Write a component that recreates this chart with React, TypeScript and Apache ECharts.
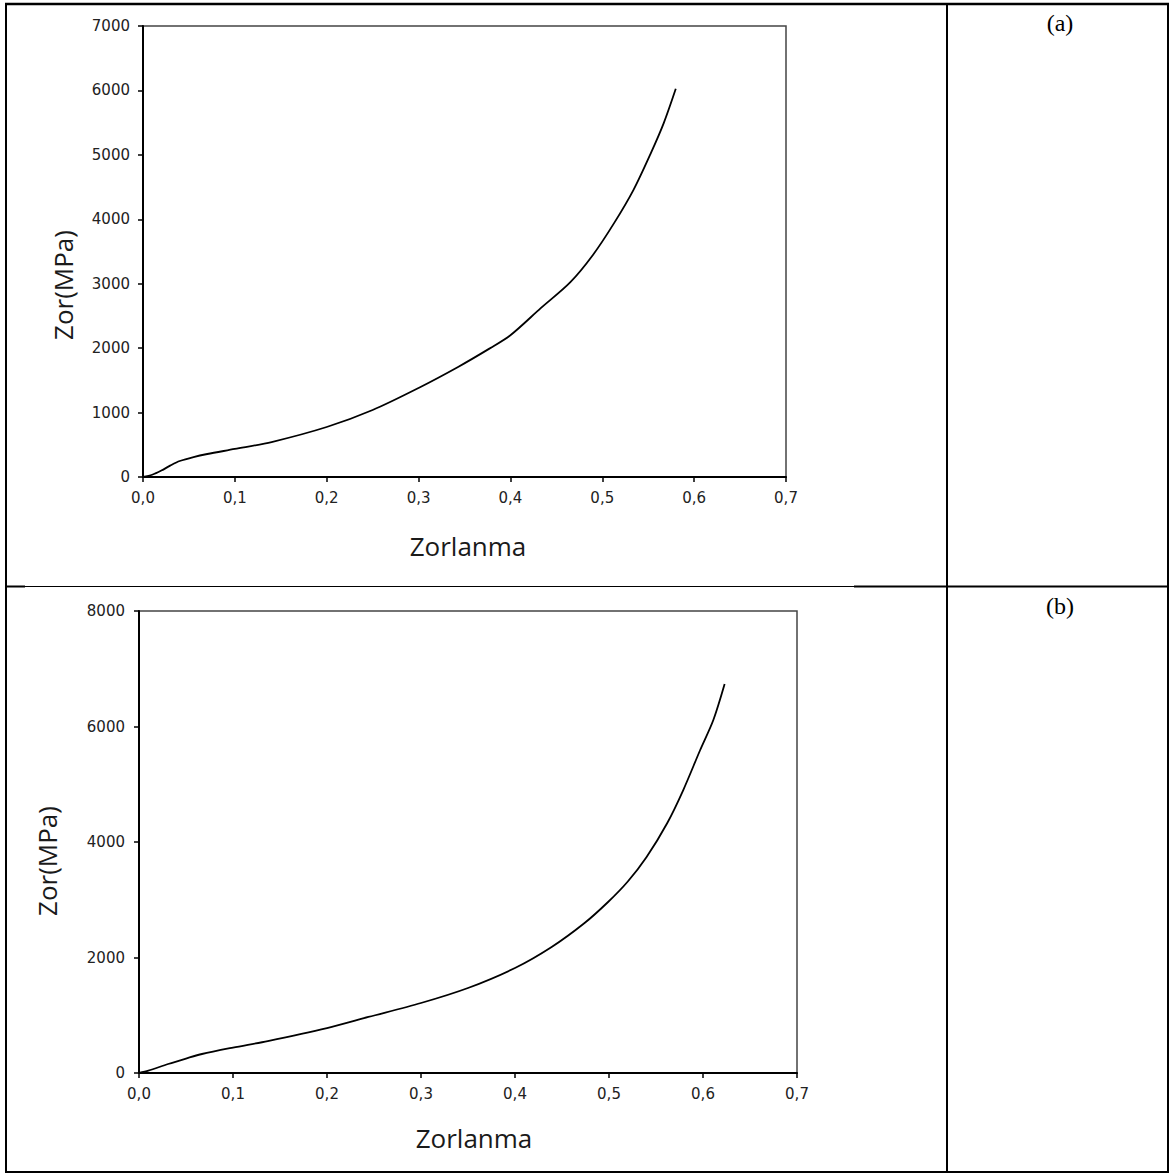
import React, { useEffect, useRef } from "react";
import * as echarts from "echarts";

// Panel (a)
const strainA = [0, 0.01, 0.02, 0.03, 0.04, 0.055, 0.07, 0.1, 0.14, 0.2, 0.25, 0.3, 0.343, 0.378, 0.4, 0.433, 0.465, 0.49, 0.513, 0.534, 0.553, 0.567, 0.58];
const stressA = [0, 35, 100, 180, 248, 310, 357, 435, 543, 776, 1040, 1382, 1708, 2000, 2200, 2620, 3020, 3450, 3944, 4457, 5031, 5497, 6025];

// Panel (b)
const strainB = [0, 0.01, 0.031, 0.05, 0.067, 0.1, 0.137, 0.2, 0.244, 0.3, 0.35, 0.4, 0.439, 0.474, 0.499, 0.52, 0.54, 0.562, 0.579, 0.597, 0.611, 0.623];
const stressB = [0, 40, 156, 250, 329, 440, 554, 779, 970, 1212, 1472, 1818, 2182, 2597, 2961, 3316, 3740, 4329, 4900, 5593, 6113, 6736];

const xRange = { min: 0, max: 0.7, interval: 0.1 };
const yRangeA = { min: 0, max: 7000, interval: 1000 };
const yRangeB = { min: 0, max: 8000, interval: 2000 };

const xTitle = "Zorlanma";
const yTitle = "Zor(MPa)";
const panelLabels = ["(a)", "(b)"];

const tickFont = { fontSize: 15, fontFamily: "DejaVu Sans", color: "#222" };
const titleFont = { fontSize: 26, fontFamily: "Open Sans", fill: "#1a1a1a" };

function xAxisCfg(gridIndex: number, margin: number) {
  return {
    type: "value",
    gridIndex,
    ...xRange,
    axisLine: { show: true, onZero: false, lineStyle: { color: "#000", width: 2 } },
    axisTick: { show: true, length: 5, inside: false, lineStyle: { color: "#000", width: 1.5 } },
    axisLabel: {
      ...tickFont,
      margin,
      formatter: (v: number) => v.toFixed(1).replace(".", ","),
    },
    splitLine: { show: false },
  };
}

function yAxisCfg(gridIndex: number, range: any, margin: number) {
  return {
    type: "value",
    gridIndex,
    ...range,
    axisLine: { show: true, onZero: false, lineStyle: { color: "#000", width: 2 } },
    axisTick: { show: true, length: 5, inside: false, lineStyle: { color: "#000", width: 1.5 } },
    axisLabel: { ...tickFont, margin, formatter: (v: number) => String(v) },
    splitLine: { show: false },
  };
}

function line(x1: number, y1: number, x2: number, y2: number, w: number) {
  return {
    type: "line",
    shape: { x1, y1, x2, y2 },
    style: { stroke: "#000", lineWidth: w },
    silent: true,
  };
}

export default function App() {
  const ref = useRef<HTMLDivElement>(null);
  useEffect(() => {
    const chart = echarts.init(ref.current!, null, { renderer: "svg" });
    const option: any = {
      animation: false,
      backgroundColor: "#fff",
      grid: [
        { left: 143, top: 26, width: 643, height: 451, show: true, borderColor: "#444", borderWidth: 1.5, backgroundColor: "transparent" },
        { left: 139, top: 611, width: 658, height: 462, show: true, borderColor: "#444", borderWidth: 1.5, backgroundColor: "transparent" },
      ],
      xAxis: [xAxisCfg(0, 13), xAxisCfg(1, 13)],
      yAxis: [yAxisCfg(0, yRangeA, 13), yAxisCfg(1, yRangeB, 14)],
      series: [
        {
          type: "line",
          xAxisIndex: 0,
          yAxisIndex: 0,
          data: strainA.map((x, i) => [x, stressA[i]]),
          symbol: "none",
          smooth: 0.3,
          lineStyle: { color: "#000", width: 1.8 },
        },
        {
          type: "line",
          xAxisIndex: 1,
          yAxisIndex: 1,
          data: strainB.map((x, i) => [x, stressB[i]]),
          symbol: "none",
          smooth: 0.3,
          lineStyle: { color: "#000", width: 1.8 },
        },
      ],
      graphic: [
        // table borders
        line(5, 4, 1169, 4, 2.5),
        line(6, 3, 6, 1173, 2),
        line(1168, 3, 1168, 1173, 2),
        line(5, 1172, 1169, 1172, 2),
        line(947, 3, 947, 1173, 2),
        line(6, 586.5, 1168, 586.5, 1),
        line(6, 586.5, 25, 586.5, 2),
        line(854, 586.5, 1168, 586.5, 2),
        // panel labels
        {
          type: "text",
          x: 1060,
          y: 23,
          style: { text: panelLabels[0], font: "24px 'Liberation Serif'", fill: "#000", textAlign: "center", textVerticalAlign: "middle" },
        },
        {
          type: "text",
          x: 1060,
          y: 606,
          style: { text: panelLabels[1], font: "24px 'Liberation Serif'", fill: "#000", textAlign: "center", textVerticalAlign: "middle" },
        },
        // axis titles (a)
        {
          type: "text",
          x: 468,
          y: 546,
          style: { text: xTitle, font: `${titleFont.fontSize}px '${titleFont.fontFamily}'`, fill: titleFont.fill, textAlign: "center", textVerticalAlign: "middle" },
        },
        {
          type: "text",
          x: 63,
          y: 285,
          rotation: Math.PI / 2,
          style: { text: yTitle, font: `${titleFont.fontSize}px '${titleFont.fontFamily}'`, fill: titleFont.fill, textAlign: "center", textVerticalAlign: "middle" },
        },
        // axis titles (b)
        {
          type: "text",
          x: 474,
          y: 1138,
          style: { text: xTitle, font: `${titleFont.fontSize}px '${titleFont.fontFamily}'`, fill: titleFont.fill, textAlign: "center", textVerticalAlign: "middle" },
        },
        {
          type: "text",
          x: 47,
          y: 861,
          rotation: Math.PI / 2,
          style: { text: yTitle, font: `${titleFont.fontSize}px '${titleFont.fontFamily}'`, fill: titleFont.fill, textAlign: "center", textVerticalAlign: "middle" },
        },
      ],
    };
    chart.setOption(option);
    return () => chart.dispose();
  }, []);
  return (
    <div
      ref={ref}
      style={{ position: "absolute", left: 0, top: 0, width: 1170, height: 1174, background: "#fff" }}
    />
  );
}
